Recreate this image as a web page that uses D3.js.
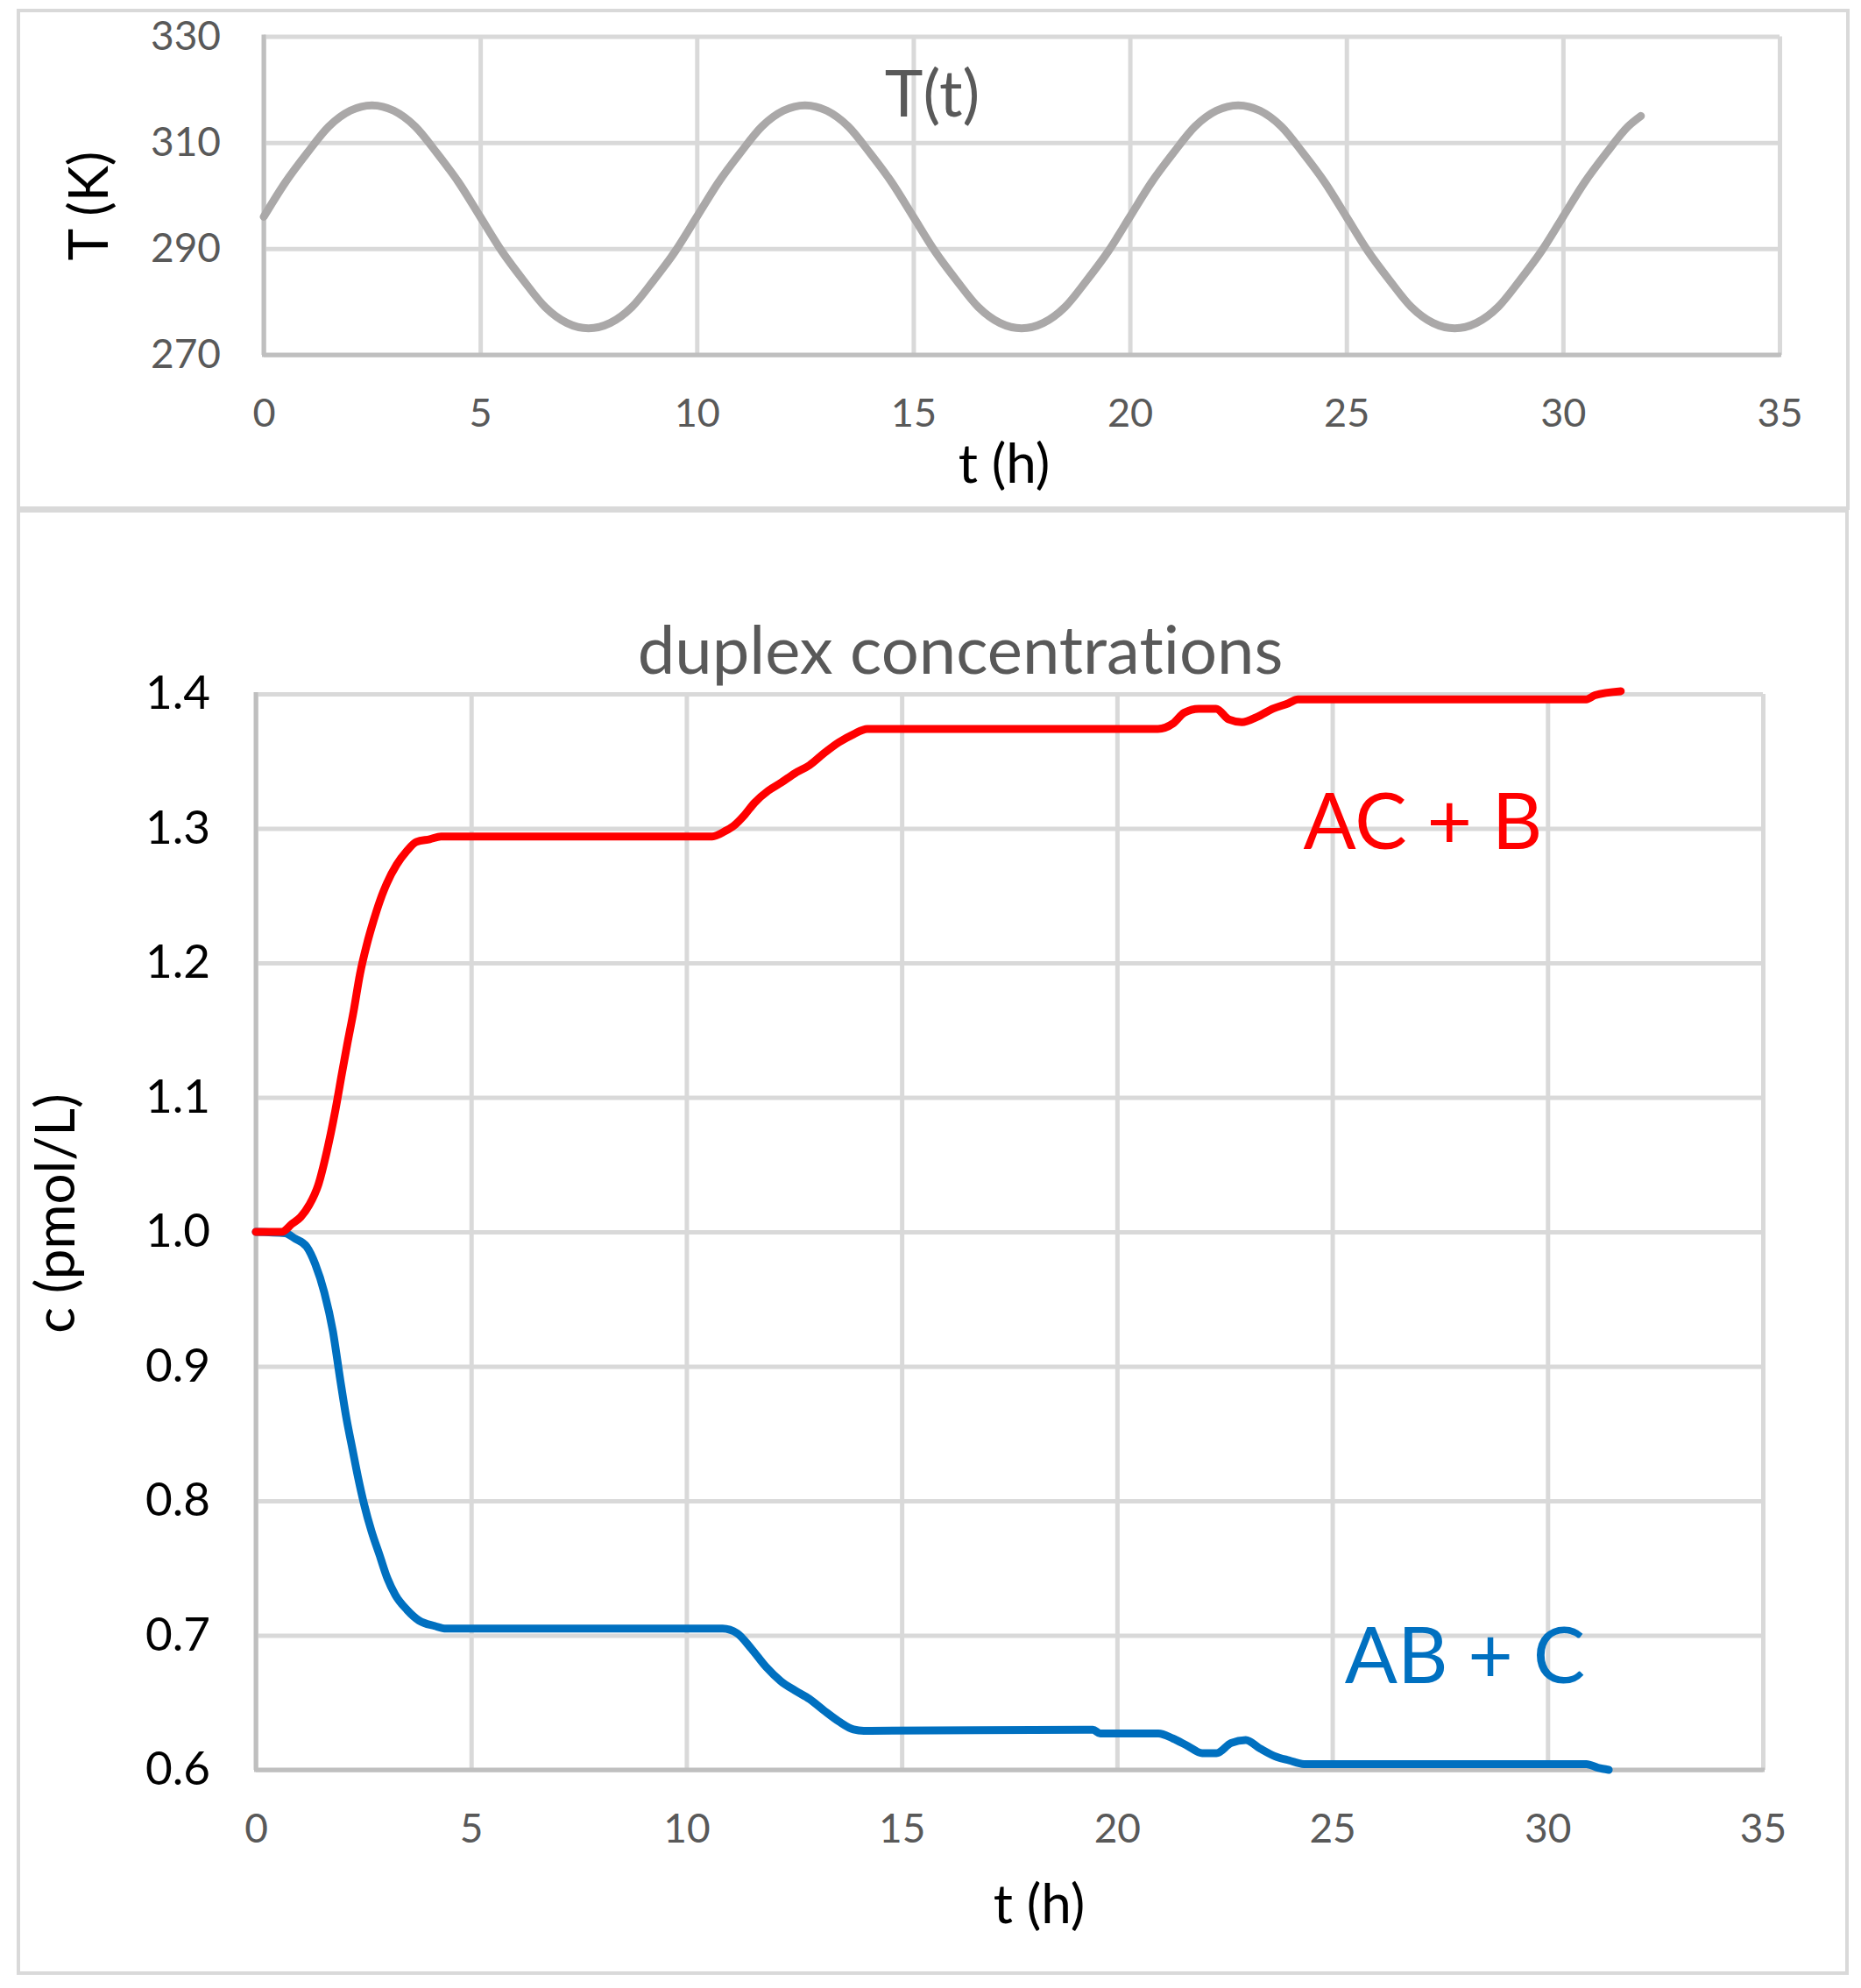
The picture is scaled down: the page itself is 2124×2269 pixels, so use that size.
<!DOCTYPE html>
<html>
<head>
<meta charset="utf-8">
<script src="https://cdn.jsdelivr.net/npm/d3@7"></script>
<style>
  body { margin: 0; background: #fff; }
  svg text {
    font-family: Lato, "Noto Sans", sans-serif;
    font-variant-ligatures: none;
    font-feature-settings: "liga" 0, "clig" 0;
  }
</style>
</head>
<body>
<div id="chart"></div>
<script>
// ---- data ----
const timeTicks = [0, 5, 10, 15, 20, 25, 30, 35];
const tempTicks = [270, 290, 310, 330];
const concTicks = [0.6, 0.7, 0.8, 0.9, 1.0, 1.1, 1.2, 1.3, 1.4];

// T(t), upper panel
const tempTime = [0, 0.5, 1, 1.5, 2, 2.5, 3, 3.5, 4, 4.5, 5, 5.5, 6, 6.5, 7, 7.5, 8, 8.5, 9, 9.5,
  10, 10.5, 11, 11.5, 12, 12.5, 13, 13.5, 14, 14.5, 15, 15.5, 16, 16.5, 17, 17.5, 18, 18.5, 19, 19.5,
  20, 20.5, 21, 21.5, 22, 22.5, 23, 23.5, 24, 24.5, 25, 25.5, 26, 26.5, 27, 27.5, 28, 28.5, 29, 29.5,
  30, 30.5, 31, 31.5, 31.8];
const tempK = [296, 302.5, 308, 313, 316, 317, 316, 313, 308, 302.5, 296, 289.5, 284, 279, 276, 275, 276, 279, 284, 289.5,
  296, 302.5, 308, 313, 316, 317, 316, 313, 308, 302.5, 296, 289.5, 284, 279, 276, 275, 276, 279, 284, 289.5,
  296, 302.5, 308, 313, 316, 317, 316, 313, 308, 302.5, 296, 289.5, 284, 279, 276, 275, 276, 279, 284, 289.5,
  296, 302.5, 308, 313, 315];

// AC + B
const redTime = [0, 0.6, 0.84, 1.04, 1.24, 1.45, 1.65, 1.85, 2.0, 2.12,
  2.27, 2.42, 2.58, 2.73, 2.88, 3.04, 3.27, 3.5, 3.73, 4.04,
  4.3, 10.6, 10.9, 11.1, 11.35, 11.58, 11.9, 12.2, 12.52, 12.86,
  13.2, 13.54, 13.88, 14.2, 20.95, 21.3, 21.56, 21.9, 22.3, 22.6,
  22.9, 23.26, 23.62, 23.98, 24.2, 30.9, 31.1, 31.7];
const redConc = [1.0, 1.0, 1.006, 1.011, 1.02, 1.035, 1.06, 1.091, 1.118, 1.139,
  1.164, 1.192, 1.214, 1.231, 1.246, 1.259, 1.273, 1.283, 1.29, 1.292,
  1.294, 1.294, 1.298, 1.302, 1.31, 1.319, 1.328, 1.334, 1.341, 1.347,
  1.356, 1.364, 1.37, 1.374, 1.374, 1.378, 1.386, 1.389, 1.389, 1.381,
  1.379, 1.383, 1.389, 1.393, 1.396, 1.396, 1.399, 1.402];

// AB + C
const blueTime = [0, 0.68, 0.91, 1.18, 1.38, 1.59, 1.79, 1.96, 2.1, 2.24,
  2.37, 2.51, 2.69, 2.87, 3.06, 3.24, 3.51, 3.79, 4.15, 4.42,
  10.84, 11.18, 11.51, 11.85, 12.19, 12.52, 12.86, 13.2, 13.54, 13.88,
  14.12, 19.44, 19.61, 20.96, 21.3, 21.64, 21.98, 22.31, 22.65, 22.99,
  23.33, 23.66, 24.0, 24.34, 30.9, 31.17, 31.42];
const blueConc = [1.0, 0.999, 0.995, 0.989, 0.976, 0.955, 0.926, 0.89, 0.862, 0.839,
  0.818, 0.798, 0.777, 0.76, 0.742, 0.73, 0.719, 0.711, 0.707, 0.705,
  0.705, 0.7015, 0.69, 0.6765, 0.666, 0.659, 0.6526, 0.644, 0.636, 0.63,
  0.629, 0.6298, 0.627, 0.627, 0.6233, 0.6178, 0.6124, 0.6124, 0.62, 0.6222,
  0.6157, 0.6102, 0.607, 0.6043, 0.6043, 0.6015, 0.6];

const zip = (xs, ys) => xs.map((t, i) => [t, ys[i]]);

const svg = d3.select('#chart')
  .append('svg')
  .attr('width', 2124)
  .attr('height', 2269);

svg.append('rect').attr('width', 2124).attr('height', 2269).attr('fill', '#fff');

// outer chart frames
const frame = (x0, y0, x1, y1) => svg.append('rect')
  .attr('x', x0).attr('y', y0)
  .attr('width', x1 - x0).attr('height', y1 - y0)
  .attr('fill', 'none')
  .attr('stroke', '#d9d9d9')
  .attr('stroke-width', 4);

frame(21, 12, 2109, 580);
frame(21, 583, 2108, 2252);

// one plot area: grid, axes, tick labels
const makePlot = box => {
  const x = d3.scaleLinear().domain([0, 35]).range([box.left, box.right]);
  const y = d3.scaleLinear().domain(box.yDomain).range([box.bottom, box.top]);

  const gx = svg.append('g')
    .attr('transform', `translate(0, ${box.bottom})`)
    .call(d3.axisBottom(x)
      .tickValues(timeTicks)
      .tickSize(-(box.bottom - box.top))
      .tickPadding(box.xPad)
      .tickFormat(d3.format('d')));
  gx.select('.domain').remove();
  gx.selectAll('line').attr('stroke', '#d9d9d9').attr('stroke-width', 5);
  gx.selectAll('text')
    .attr('font-family', 'Lato')
    .attr('font-size', box.xFont)
    .attr('fill', '#595959');

  const gy = svg.append('g')
    .attr('transform', `translate(${box.left}, 0)`)
    .call(d3.axisLeft(y)
      .tickValues(box.yTicks)
      .tickSize(-(box.right - box.left))
      .tickPadding(box.yPad)
      .tickFormat(box.yFormat));
  gy.select('.domain').remove();
  gy.selectAll('line').attr('stroke', '#d9d9d9').attr('stroke-width', 5);
  gy.selectAll('text')
    .attr('font-family', 'Lato')
    .attr('font-size', box.yFont)
    .attr('fill', box.yColor);

  // axis lines
  svg.append('line')
    .attr('x1', box.left).attr('x2', box.left)
    .attr('y1', box.top - 2).attr('y2', box.bottom)
    .attr('stroke', '#bfbfbf').attr('stroke-width', 5);
  svg.append('line')
    .attr('x1', box.left - 2).attr('x2', box.right + 2)
    .attr('y1', box.bottom).attr('y2', box.bottom)
    .attr('stroke', '#bfbfbf').attr('stroke-width', 5);

  return { x, y };
};

const drawLine = (plot, pts, color) => {
  const line = d3.line()
    .x(d => plot.x(d[0]))
    .y(d => plot.y(d[1]))
    .curve(d3.curveMonotoneX);
  svg.append('path')
    .datum(pts)
    .attr('d', line)
    .attr('fill', 'none')
    .attr('stroke', color)
    .attr('stroke-width', 9)
    .attr('stroke-linejoin', 'round')
    .attr('stroke-linecap', 'round');
};

const label = (txt, x, y, size, color, rotate) => svg.append('text')
  .attr('transform', `translate(${x}, ${y})` + (rotate ? ' rotate(-90)' : ''))
  .attr('text-anchor', 'middle')
  .attr('font-size', size)
  .attr('fill', color)
  .text(txt);

// ---- upper panel: temperature ----
const tempPlot = makePlot({
  left: 301, right: 2031, top: 41.5, bottom: 405,
  yDomain: [270, 330], yTicks: tempTicks, yFormat: d3.format('d'),
  xPad: 50, yPad: 49, xFont: 45, yFont: 46, yColor: '#595959'
});
drawLine(tempPlot, zip(tempTime, tempK), '#aaa8a8');
label('T(t)', 1064, 133, 74, '#595959');
label('t (h)', 1146, 551, 62, '#000');
label('T (K)', 123, 235, 62, '#000', true);

// ---- lower panel: duplex concentrations ----
const concPlot = makePlot({
  left: 292, right: 2012, top: 792, bottom: 2020,
  yDomain: [0.6, 1.4], yTicks: concTicks, yFormat: d3.format('.1f'),
  xPad: 50, yPad: 52, xFont: 46, yFont: 53, yColor: '#000'
});
drawLine(concPlot, zip(blueTime, blueConc), '#0070c0');
drawLine(concPlot, zip(redTime, redConc), '#ff0000');
label('duplex concentrations', 1096, 769, 76, '#595959');
label('t (h)', 1186, 2195, 62, '#000');
label('c (pmol/L)', 85, 1385, 62, '#000', true);
label('AC + B', 1624, 969, 89, '#ff0000');
label('AB + C', 1672, 1921, 89, '#0070c0');
</script>
</body>
</html>
